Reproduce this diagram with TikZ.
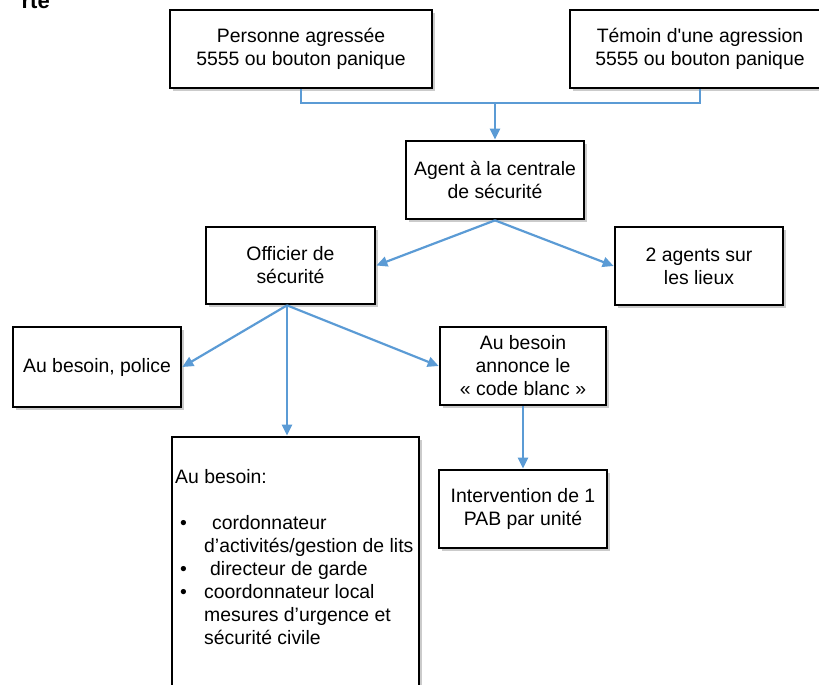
\documentclass[tikz,border=0pt]{standalone}
\usepackage{fontspec}
\setmainfont{Liberation Sans}
\usetikzlibrary{arrows.meta,shadows}
\definecolor{arrowblue}{RGB}{91,155,213}
\tikzset{
  box/.style={draw, line width=2.7pt, fill=white, align=center, inner sep=0pt,
    font=\fontsize{19.4}{23}\selectfont,
    drop shadow={shadow xshift=3pt, shadow yshift=-3pt, fill=black!45, opacity=0.45}},
  link/.style={draw=arrowblue, line width=2.2pt},
  arr/.style={link, -{Triangle[length=11pt,width=10pt]}}
}
\begin{document}
\begin{tikzpicture}[x=1pt,y=-1pt]
\useasboundingbox (0,0) rectangle (819,685);
\clip (0,0) rectangle (819,685);
\node[anchor=base east, inner sep=0pt, font=\bfseries\fontsize{22}{26}\selectfont] (title) at (50,9) {rte};
\node[box, minimum width=262pt, minimum height=78pt] (b1) at (301,49) {Personne agressée\\5555 ou bouton panique};
\node[box, minimum width=260pt, minimum height=78pt] (b2) at (700,49) {Témoin d\textquotesingle une agression\\5555 ou bouton panique};
\node[box, minimum width=178pt, minimum height=78pt] (b3) at (495,180) {Agent à la centrale\\de sécurité};
\node[box, minimum width=169pt, minimum height=77pt] (off) at (290.5,265.5) {Officier de\\sécurité};
\node[box, minimum width=168pt, minimum height=78pt] (b5) at (699,266) {2 agents sur\\les lieux};
\node[box, minimum width=168pt, minimum height=80pt] (pol) at (97,367) {Au besoin, police};
\node[box, minimum width=166pt, minimum height=78pt] (b7) at (523,366) {Au besoin\\annonce le\\« code blanc »};
\node[box, minimum width=247pt, minimum height=249pt] (b8) at (295.5,561.5) {};
\node[box, minimum width=168pt, minimum height=78pt] (b9) at (523,509) {Intervention de 1\\PAB par unité};
\node[anchor=base west, inner sep=0pt, font=\fontsize{19.4}{23}\selectfont] (lst) at (175,483) {%
\begin{tabular}[t]{@{}l@{}}
Au besoin:\\
\\
\hspace*{5pt}\makebox[24pt][l]{•}\hspace*{8pt}cordonnateur\\
\hspace*{29pt}d’activités/gestion de lits\\
\hspace*{5pt}\makebox[24pt][l]{•}\hspace*{6pt}directeur de garde\\
\hspace*{5pt}\makebox[24pt][l]{•}coordonnateur local\\
\hspace*{29pt}mesures d’urgence et\\
\hspace*{29pt}sécurité civile
\end{tabular}};
\coordinate (j) at (495,102);
\draw[link] (b1.south) -- ++(0,14) -| (b2.south);
\draw[arr] (j) -- (b3.north);
\draw[arr] (b3.south) -- (off.east);
\draw[arr] (b3.south) -- (b5.west);
\draw[arr] ([xshift=-3.5pt]off.south) -- (pol.east);
\draw[arr] ([xshift=-3.5pt]off.south) -- (b7.west);
\draw[arr] ([xshift=-3.5pt]off.south) -- ([xshift=-3.5pt]off.south |- b8.north);
\draw[arr] (b7.south) -- (b9.north);
\end{tikzpicture}
\end{document}
